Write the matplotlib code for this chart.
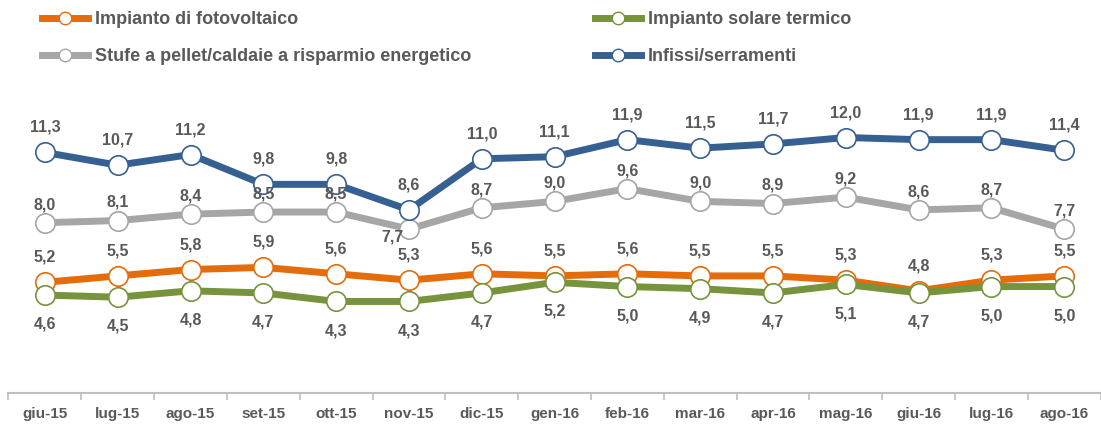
import matplotlib
matplotlib.use("Agg")
import matplotlib.pyplot as plt
from matplotlib.lines import Line2D
import numpy as np

months = ["giu-15", "lug-15", "ago-15", "set-15", "ott-15", "nov-15", "dic-15", "gen-16",
          "feb-16", "mar-16", "apr-16", "mag-16", "giu-16", "lug-16", "ago-16"]

fotovoltaico = [5.2, 5.5, 5.8, 5.9, 5.6, 5.3, 5.6, 5.5, 5.6, 5.5, 5.5, 5.3, 4.8, 5.3, 5.5]
solare_termico = [4.6, 4.5, 4.8, 4.7, 4.3, 4.3, 4.7, 5.2, 5.0, 4.9, 4.7, 5.1, 4.7, 5.0, 5.0]
stufe_pellet = [8.0, 8.1, 8.4, 8.5, 8.5, 7.7, 8.7, 9.0, 9.6, 9.0, 8.9, 9.2, 8.6, 8.7, 7.7]
infissi = [11.3, 10.7, 11.2, 9.8, 9.8, 8.6, 11.0, 11.1, 11.9, 11.5, 11.7, 12.0, 11.9, 11.9, 11.4]

names = ["Impianto di fotovoltaico", "Stufe a pellet/caldaie a risparmio energetico",
         "Impianto solare termico", "Infissi/serramenti"]
colors = ["#E46C0A", "#A6A6A6", "#77933C", "#376092"]
text_col = "#595959"
font = "Liberation Sans"

fig = plt.figure(figsize=(11.01, 4.24), dpi=100)
ax = fig.add_axes([0.0077, 0.0731, 0.992, 0.703])
x = np.arange(len(months))

series = [fotovoltaico, stufe_pellet, solare_termico, infissi]
# label offset in points (above = positive)
offsets = [18, 13, -21, 18]
for vals, col, off in zip(series, colors, offsets):
    ax.plot(x, vals, color=col, lw=5, marker="o", ms=14, mfc="white",
            mec=col, mew=1.2, solid_joinstyle="round", zorder=3)
    for xi, v in zip(x, vals):
        dx, dy = 0, off
        if vals is stufe_pellet and xi == 5:
            dx, dy = -12, -6
        ax.annotate(f"{v:.1f}".replace(".", ","), (xi, v), xytext=(dx, dy),
                    textcoords="offset points", ha="center", va="center",
                    fontsize=11.5, fontweight="bold", color=text_col,
                    family=font, zorder=4)

ax.set_xlim(-0.5, len(months) - 0.5)
ax.set_ylim(0, 14)
for s in ["top", "left", "right"]:
    ax.spines[s].set_visible(False)
ax.spines["bottom"].set_color("#BFBFBF")
ax.spines["bottom"].set_linewidth(1.5)
ax.set_yticks([])
ax.set_xticks(x)
ax.set_xticklabels(months, fontsize=11, fontweight="bold", color=text_col, family=font)
ax.tick_params(axis="x", which="major", length=0, pad=10)
ax.set_xticks(np.arange(-0.5, len(months)), minor=True)
ax.tick_params(axis="x", which="minor", length=5, color="#BFBFBF", width=1.2)

handles = [Line2D([0], [0], color=c, lw=5, marker="o", ms=9, mfc="white", mec=c, mew=1)
           for c in colors]
for i, xpos in enumerate([0.038, 0.540]):
    leg = fig.legend(handles[2 * i:2 * i + 2], names[2 * i:2 * i + 2], loc="upper left",
                     bbox_to_anchor=(xpos, 0.973), frameon=False, handlelength=2.55,
                     handletextpad=0.4, labelspacing=1.1, borderpad=0, borderaxespad=0,
                     prop={"family": font, "weight": "bold", "size": 13})
    for t in leg.get_texts():
        t.set_color(text_col)

fig.savefig("out.png", dpi=100)
